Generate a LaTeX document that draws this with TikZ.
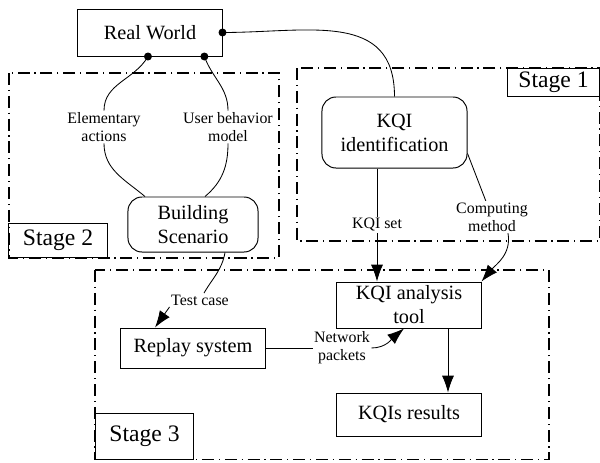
\documentclass[tikz,border=0pt]{standalone}
\usepackage{fontspec}
\setmainfont{Liberation Serif}
\usetikzlibrary{arrows.meta,calc}
\tikzset{
  box/.style={draw, line width=0.7pt, align=center, inner sep=2pt, font=\fontsize{14.4}{17}\selectfont},
  rbox/.style={box, rounded corners=0.35cm},
  lbl/.style={align=center, inner sep=1pt, font=\fontsize{11.3}{13}\selectfont},
  stagebox/.style={draw, line width=0.7pt, inner sep=0pt, font=\fontsize{16.8}{18}\selectfont},
  region/.style={line width=0.8pt, dash pattern=on 0.3cm off 0.12cm on 0.03cm off 0.12cm},
  link/.style={line width=0.6pt},
  arr/.style={link, -{Latex[length=0.42cm,width=0.3cm]}}
}

\begin{document}
\begin{tikzpicture}[x=0.025cm, y=-0.025cm]
  \useasboundingbox (0,0) rectangle (600,462);
  \draw[region] (9,73) rectangle (279,258);
  \draw[region] (297,68) rectangle (599.5,241);
  \draw[region] (95,270) rectangle (549,459.5);

  \node[stagebox, minimum width=2.475cm, minimum height=0.85cm, anchor=south west] (s2) at (8,258) {Stage 2};
  \node[stagebox, minimum width=2.275cm, minimum height=0.7cm, anchor=north east] (s1) at (599.5,68) {Stage 1};
  \node[stagebox, minimum width=2.45cm, minimum height=1.15cm, anchor=south west] (s3) at (95,459.5) {Stage 3};

  \node[box, minimum width=3.6cm, minimum height=1.175cm] (rw) at (150,32.5) {Real World};
  \node[rbox, minimum width=3.625cm, minimum height=1.775cm] (kid) at (394.5,132.5) {KQI\\identification};
  \node[rbox, minimum width=3.25cm, minimum height=1.375cm] (bs) at (193,224.5) {Building\\Scenario};
  \node[box, minimum width=3.6cm, minimum height=1.15cm] (kat) at (409,305) {KQI analysis\\tool};
  \node[box, minimum width=3.6cm, minimum height=1.075cm] (kr) at (409,414.5) {KQIs results};
  \node[box, minimum width=3.6cm, minimum height=1cm] (rs) at (193,348) {Replay system};

  \node[lbl] (ea) at (104,127) {Elementary\\actions};
  \node[lbl] (ub) at (228,127) {User behavior\\model};
  \node[lbl] (cm) at (492,217) {Computing\\method};
  \node[lbl] (tc) at (200,300) {Test case};
  \node[lbl] (np) at (342,348) {Network\\packets};

  \coordinate (a1) at ($(rw.south west)!0.486!(rw.south east)$);
  \coordinate (a2) at ($(rw.south west)!0.875!(rw.south east)$);
  \draw[link] (a1) to[out=240,in=90] (ea);
  \draw[link] (ea) to[out=270,in=140] ($(bs.north)+(-48,0)$);
  \draw[link] (a2) to[out=-70,in=90] (ub);
  \draw[link] (ub) to[out=270,in=40] ($(bs.north)+(12,0)$);
  \draw[link] (rw.east) to[out=0,in=90,looseness=1.2] (kid.north);
  \fill (a1) circle (0.1cm);
  \fill (a2) circle (0.1cm);
  \fill (rw.east) circle (0.1cm);

  \draw[arr] ($(kid.south)+(-17.5,0)$) -- node[lbl, fill=white] (ks) {KQI set} ($(kat.north)+(-32,0)$);
  \draw[link] (kid.-16) -- (cm);
  \draw[arr] ($(cm.south)+(16,0)$) to[out=-80,in=50] (kat.north east);
  \draw[link] ($(bs.south)+(32,0)$) to[out=-100,in=60] (tc);
  \draw[arr] (tc.south west) -- ($(rs.north)+(-38,0)$);
  \draw[link] (rs.east) -- (np.west);
  \draw[arr] (np.east) to[out=0,in=220] ($(kat.south)+(-5,0)$);
  \draw[arr] ($(kat.south)+(39,0)$) -- ($(kr.north)+(39,0)$);
\end{tikzpicture}
\end{document}
